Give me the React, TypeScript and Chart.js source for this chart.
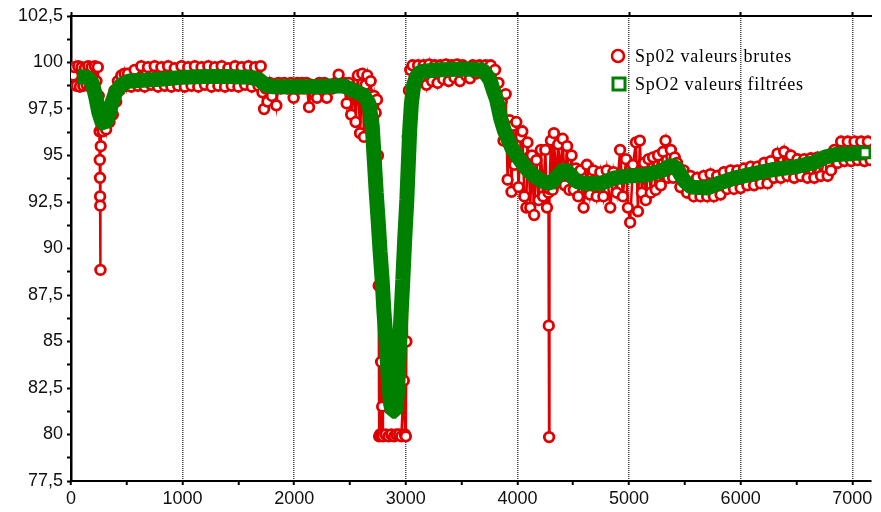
import React, { useEffect, useRef } from 'react';
import { Chart, registerables } from 'chart.js';

Chart.register(...registerables);

const RAW_LABEL = 'Sp02 valeurs brutes';
const FILT_LABEL = 'SpO2 valeurs filtrées';

const X_MIN = 0;
const X_MAX = 7168;
const Y_MIN = 77.5;
const Y_MAX = 102.5;

// tick positions (labels only on the major ones)
const xTicks = [0, 500, 1000, 1500, 2000, 2500, 3000, 3500, 4000, 4500, 5000, 5500, 6000, 6500, 7000];
const xMajorTicks = [0, 1000, 2000, 3000, 4000, 5000, 6000, 7000];
const yTicks = [77.5, 78.75, 80, 81.25, 82.5, 83.75, 85, 86.25, 87.5, 88.75, 90, 91.25, 92.5, 93.75, 95, 96.25, 97.5, 98.75, 100, 101.25, 102.5];
const yMajorTicks = [77.5, 80, 82.5, 85, 87.5, 90, 92.5, 95, 97.5, 100, 102.5];

// [sample index, SpO2 %] raw values
const rawSpO2: [number, number][] = [
  [20, 99.3], [35, 99.75], [50, 98.75], [65, 99.8], [80, 98.7], [95, 99.75], [110, 98.75], [125, 99.7], [140, 98.8], [155, 99.8],
  [170, 98.7], [185, 99.75], [200, 98.9], [215, 99.8], [228, 99.0], [240, 99.75], [248, 98.2], [253, 97.2], [256, 96.3], [258, 94.76],
  [260, 93.8], [261, 92.8], [262, 92.3], [264, 88.85], [267, 95.5], [272, 96.5], [285, 96.3], [300, 97.0], [315, 96.4], [330, 97.3],
  [345, 96.8], [360, 97.9], [375, 97.2], [390, 98.5], [405, 97.9], [420, 99.0], [435, 98.5], [450, 99.3], [465, 98.8], [480, 99.4],
  [495, 98.75], [510, 99.4], [540, 98.7], [570, 99.6], [600, 98.75], [630, 99.8], [660, 98.7], [690, 99.75], [720, 98.8], [750, 99.8],
  [780, 98.7], [810, 99.75], [840, 98.75], [870, 99.8], [900, 98.7], [930, 99.7], [960, 98.75], [990, 99.8], [1020, 98.7], [1050, 99.75],
  [1080, 98.75], [1110, 99.8], [1140, 98.7], [1170, 99.75], [1200, 98.8], [1230, 99.8], [1260, 98.7], [1290, 99.75], [1320, 98.75], [1350, 99.8],
  [1380, 98.7], [1410, 99.7], [1440, 98.75], [1470, 99.8], [1500, 98.7], [1530, 99.75], [1560, 98.8], [1590, 99.8], [1620, 98.7], [1650, 99.75],
  [1680, 98.75], [1700, 99.8], [1715, 98.4], [1730, 97.5], [1745, 98.6], [1760, 97.9], [1780, 98.9], [1800, 98.2], [1820, 98.8], [1840, 97.7],
  [1860, 98.9], [1880, 98.6], [1910, 98.9], [1940, 98.6], [1970, 98.9], [1995, 98.1], [2027, 98.9], [2050, 98.6], [2070, 98.9], [2090, 98.6],
  [2110, 98.9], [2133, 97.6], [2150, 98.8], [2175, 98.6], [2204, 98.1], [2225, 98.9], [2250, 98.6], [2270, 98.9], [2292, 98.1], [2315, 98.8],
  [2340, 98.6], [2370, 98.9], [2398, 99.35], [2420, 98.7], [2445, 98.9], [2470, 97.8], [2490, 98.9], [2510, 97.2], [2530, 98.6], [2550, 96.8],
  [2570, 99.3], [2590, 96.2], [2610, 99.4], [2625, 96.0], [2640, 98.8], [2655, 99.3], [2670, 98.3], [2685, 99.0], [2700, 97.6], [2715, 98.2],
  [2730, 97.3], [2742, 98.0], [2750, 95.0], [2757, 88.0], [2761, 79.9], [2770, 80.0], [2779, 83.9], [2785, 80.0], [2788, 81.5], [2795, 79.9],
  [2820, 80.0], [2845, 79.9], [2870, 80.0], [2895, 79.9], [2915, 80.0], [2940, 80.0], [2960, 79.9], [2982, 82.9],
  [2992, 80.0], [3000, 79.9], [3005, 85.0], [3010, 92.8], [3018, 96.0], [3028, 98.5], [3040, 99.6], [3060, 99.85], [3085, 98.9], [3110, 99.85],
  [3135, 99.0], [3160, 99.85], [3185, 98.8], [3210, 99.9], [3235, 99.0], [3260, 99.85], [3285, 98.9], [3310, 99.85], [3335, 99.1], [3360, 99.9],
  [3385, 99.0], [3410, 99.85], [3435, 99.2], [3460, 99.9], [3485, 99.0], [3510, 99.85], [3540, 99.3], [3575, 99.15], [3600, 99.85], [3630, 99.4],
  [3660, 99.85], [3690, 99.5], [3715, 99.85], [3740, 99.5], [3760, 99.85], [3780, 99.0], [3800, 99.6], [3815, 98.2], [3830, 98.9], [3845, 97.0],
  [3860, 97.9], [3875, 95.8], [3895, 98.3], [3912, 93.7], [3930, 96.9], [3947, 93.05], [3960, 96.6], [3973, 94.5], [3990, 96.8], [4010, 93.3],
  [4030, 96.0], [4044, 96.3], [4062, 92.8], [4080, 92.2], [4090, 95.7], [4100, 94.9], [4115, 92.2], [4130, 95.0], [4150, 91.8], [4170, 94.75],
  [4190, 92.6], [4210, 95.3], [4230, 92.8], [4250, 95.3], [4265, 92.2], [4278, 93.0], [4281, 85.85], [4284, 79.86], [4287, 93.2], [4300, 95.8],
  [4315, 93.15], [4327, 96.2], [4345, 93.5], [4365, 95.6], [4385, 94.0], [4405, 95.9], [4425, 93.4], [4445, 95.5], [4465, 93.15], [4485, 95.0],
  [4505, 93.15], [4525, 94.3], [4545, 92.8], [4565, 94.2], [4593, 92.2], [4622, 94.5], [4650, 92.9], [4680, 94.2], [4710, 92.8], [4743, 94.1],
  [4770, 92.8], [4800, 94.2], [4832, 92.2], [4860, 94.1], [4890, 93.0], [4920, 95.3], [4945, 92.8], [4973, 94.8], [4990, 92.2], [5010, 91.4],
  [5035, 94.5], [5062, 95.7], [5080, 92.0], [5097, 95.8], [5115, 93.0], [5135, 94.6], [5150, 92.6], [5175, 94.8], [5195, 93.0], [5215, 94.9],
  [5239, 93.15], [5260, 95.0], [5285, 93.4], [5305, 95.2], [5327, 95.8], [5350, 93.8], [5375, 95.3], [5395, 93.8], [5410, 94.9], [5430, 94.6],
  [5460, 93.3], [5490, 94.2], [5520, 93.0], [5550, 93.9], [5580, 92.8], [5610, 93.8], [5640, 92.8], [5670, 93.9], [5700, 92.8], [5730, 94.0],
  [5760, 92.8], [5790, 93.9], [5820, 92.9], [5850, 94.1], [5880, 93.2], [5910, 94.2], [5940, 93.2], [5970, 94.2], [6000, 93.25], [6030, 94.3],
  [6060, 93.4], [6090, 94.4], [6120, 93.4], [6150, 94.4], [6180, 93.5], [6210, 94.6], [6240, 93.5], [6270, 94.7], [6300, 93.8], [6330, 95.1],
  [6360, 93.8], [6390, 95.2], [6420, 93.9], [6450, 95.0], [6480, 93.8], [6510, 94.8], [6540, 93.9], [6570, 94.8], [6600, 93.8], [6630, 94.85],
  [6660, 93.8], [6690, 94.9], [6720, 93.9], [6750, 94.9], [6780, 93.9], [6810, 94.2], [6840, 95.3], [6870, 94.6], [6900, 95.75], [6930, 94.7],
  [6960, 95.75], [6990, 94.7], [7020, 95.75], [7050, 94.75], [7080, 95.75], [7110, 94.7], [7140, 95.75], [7165, 94.75],
];

// [sample index, SpO2 %] filtered values
const filteredSpO2: [number, number][] = [
  [60, 99.25], [150, 99.2], [190, 98.9], [220, 98.2], [250, 97.3], [280, 96.75], [300, 96.7], [330, 97.0], [360, 97.7], [400, 98.4],
  [450, 98.8], [520, 99.0], [650, 99.05], [800, 99.1], [1000, 99.2], [1200, 99.25], [1400, 99.25], [1600, 99.2], [1680, 99.1], [1740, 98.8],
  [1800, 98.7], [2000, 98.7], [2200, 98.7], [2440, 98.75], [2530, 98.5], [2620, 98.25], [2670, 97.8], [2700, 96.5], [2717, 94.8], [2735, 93.0],
  [2752, 91.5], [2770, 89.8], [2788, 88.3], [2805, 86.5], [2823, 85.1], [2845, 82.8], [2865, 81.6], [2880, 81.25], [2910, 81.25], [2925, 82.2],
  [2938, 84.0], [2955, 86.2], [2973, 88.3], [2990, 90.5], [3009, 92.6], [3022, 94.5], [3035, 96.4], [3050, 97.8], [3071, 98.8], [3100, 99.3],
  [3133, 99.5], [3265, 99.6], [3531, 99.65], [3690, 99.6], [3752, 99.1], [3790, 98.4], [3814, 98.0], [3850, 97.0], [3885, 96.3], [3950, 95.4],
  [4000, 94.95], [4080, 94.3], [4150, 93.9], [4230, 93.6], [4300, 93.5], [4360, 93.9], [4420, 94.3], [4470, 94.0], [4530, 93.6], [4600, 93.5],
  [4750, 93.5], [4870, 93.8], [5000, 93.9], [5150, 93.95], [5300, 94.2], [5380, 94.5], [5430, 94.3], [5500, 93.6], [5560, 93.3], [5700, 93.25],
  [5800, 93.5], [5950, 93.8], [6100, 94.0], [6300, 94.25], [6500, 94.4], [6650, 94.6], [6750, 94.9], [6850, 95.05], [7000, 95.1], [7115, 95.15],
];

const RED = '#e00000';
const GREEN = '#008000';

const legendPlugin = {
  id: 'insideLegend',
  afterDraw(chart: any) {
    const ctx = chart.ctx as CanvasRenderingContext2D;
    ctx.save();
    ctx.beginPath();
    ctx.arc(618, 56, 6, 0, Math.PI * 2);
    ctx.fillStyle = '#fff';
    ctx.fill();
    ctx.lineWidth = 2.5;
    ctx.strokeStyle = RED;
    ctx.stroke();
    ctx.fillStyle = '#fff';
    ctx.fillRect(613, 78, 12, 12);
    ctx.lineWidth = 3;
    ctx.strokeStyle = GREEN;
    ctx.strokeRect(613, 78, 12, 12);
    ctx.fillStyle = '#000';
    ctx.font = '18px "Liberation Serif", serif';
    (ctx as any).letterSpacing = '0.8px';
    ctx.textBaseline = 'alphabetic';
    ctx.textAlign = 'left';
    ctx.fillText(RAW_LABEL, 635, 62);
    ctx.fillText(FILT_LABEL, 635, 90);
    ctx.restore();
  },
};

const isIn = (list: number[], v: number) => list.some((t) => Math.abs(t - v) < 1e-6);

export default function App() {
  const ref = useRef<HTMLCanvasElement | null>(null);

  useEffect(() => {
    document.body.style.margin = '0';
    const canvas = ref.current;
    if (!canvas) return;
    const lastFilt = filteredSpO2.length - 1;
    const tickFont = { family: '"Liberation Sans", Arial, sans-serif', size: 18 };
    const chart = new Chart(canvas, {
      type: 'line',
      data: {
        datasets: [
          {
            label: RAW_LABEL,
            data: rawSpO2.map(([x, y]) => ({ x, y })),
            borderColor: RED,
            borderWidth: 2.5,
            pointStyle: 'circle',
            pointRadius: 4.8,
            pointBorderWidth: 2.8,
            pointBorderColor: RED,
            pointBackgroundColor: '#ffffff',
            tension: 0,
            order: 1,
          },
          {
            label: FILT_LABEL,
            data: filteredSpO2.map(([x, y]) => ({ x, y })),
            borderColor: GREEN,
            borderWidth: 15,
            borderJoinStyle: 'bevel',
            borderCapStyle: 'butt',
            pointStyle: 'rect',
            pointRadius: (c: any) => (c.dataIndex === lastFilt ? 7 : 0),
            pointBorderWidth: 3,
            pointBorderColor: GREEN,
            pointBackgroundColor: '#ffffff',
            tension: 0,
            order: 0,
          },
        ],
      },
      options: {
        responsive: false,
        animation: false,
        events: [],
        layout: { padding: 0 },
        plugins: { legend: { display: false }, tooltip: { enabled: false }, title: { display: false } },
        scales: {
          x: {
            type: 'linear',
            position: 'bottom',
            min: X_MIN,
            max: X_MAX,
            afterBuildTicks: (s: any) => {
              s.ticks = xTicks.map((value) => ({ value }));
            },
            ticks: {
              autoSkip: false,
              maxRotation: 0,
              padding: 3,
              color: '#111',
              font: tickFont,
              callback: (v: any) => (isIn(xMajorTicks, Number(v)) ? String(v) : ''),
            },
            grid: {
              color: (c: any) =>
                c.tick && c.tick.value !== 0 && isIn(xMajorTicks, c.tick.value) ? '#444' : 'rgba(0,0,0,0)',
              lineWidth: 1.5,
              drawTicks: true,
              tickLength: 4,
              tickColor: '#000',
              tickWidth: 2,
            },
            border: { display: true, color: '#000', width: 2, dash: [1, 1] },
            afterFit: (s: any) => {
              s.height = 31;
              s.paddingLeft = 0;
              s.paddingRight = 0;
            },
          },
          x2: {
            type: 'linear',
            axis: 'x',
            position: 'top',
            min: X_MIN,
            max: X_MAX,
            afterBuildTicks: (s: any) => {
              s.ticks = xMajorTicks.map((value) => ({ value }));
            },
            ticks: { display: false },
            grid: { drawOnChartArea: false, drawTicks: true, tickLength: 4, tickColor: '#000', tickWidth: 2 },
            border: { display: true, color: '#000', width: 2 },
            afterFit: (s: any) => {
              s.height = 16;
              s.paddingLeft = 0;
              s.paddingRight = 0;
            },
          },
          y: {
            type: 'linear',
            position: 'left',
            min: Y_MIN,
            max: Y_MAX,
            afterBuildTicks: (s: any) => {
              s.ticks = yTicks.map((value) => ({ value }));
            },
            ticks: {
              autoSkip: false,
              padding: 4,
              color: '#111',
              font: tickFont,
              callback: (v: any) => (isIn(yMajorTicks, Number(v)) ? String(Number(v)).replace('.', ',') : ''),
            },
            grid: { drawOnChartArea: false, drawTicks: true, tickLength: 4, tickColor: '#000', tickWidth: 2 },
            border: { display: true, color: '#000', width: 2.5 },
            afterFit: (s: any) => {
              s.width = 71;
              s.paddingTop = 0;
              s.paddingBottom = 0;
            },
          },
        },
      } as any,
      plugins: [legendPlugin],
    });
    return () => chart.destroy();
  }, []);

  return (
    <div style={{ width: 881, height: 512, background: '#fff' }}>
      <canvas ref={ref} width={881} height={512} style={{ display: 'block', width: 881, height: 512 }} />
    </div>
  );
}
